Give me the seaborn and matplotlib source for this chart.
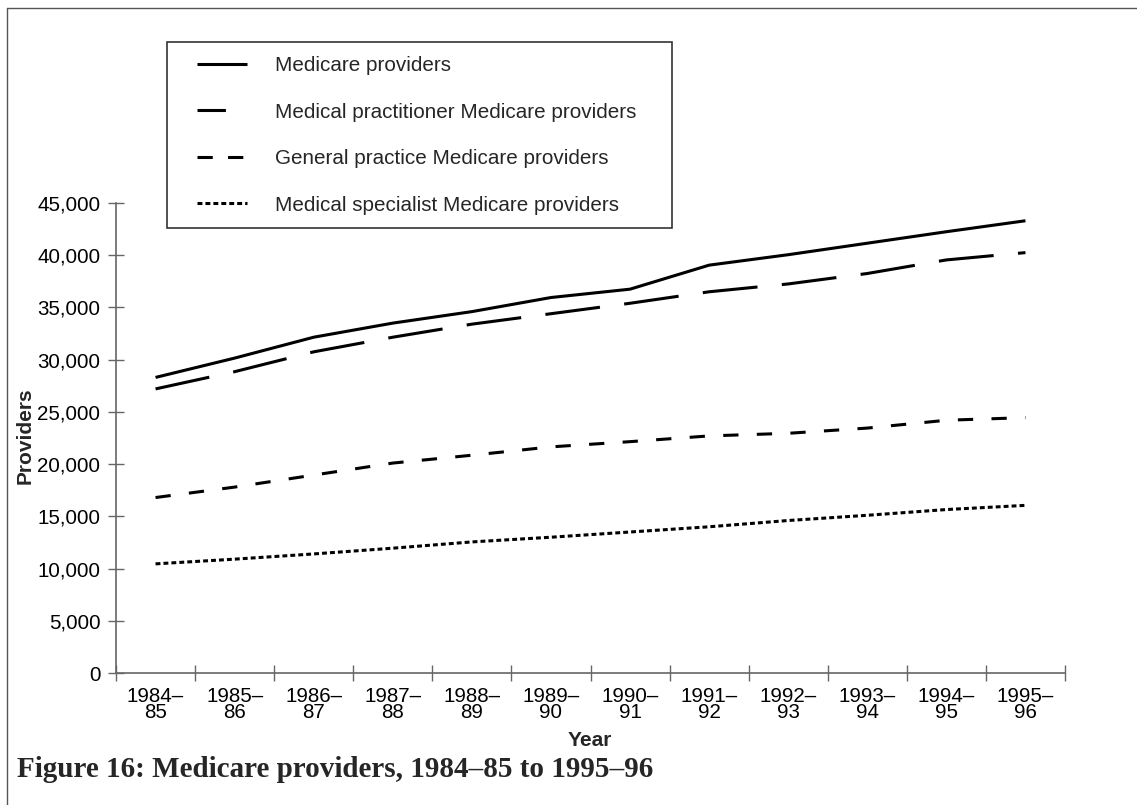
import matplotlib
matplotlib.use("Agg")
import matplotlib.pyplot as plt
import seaborn as sns
import pandas as pd
from matplotlib.lines import Line2D
from matplotlib.patches import Rectangle
from matplotlib.ticker import FuncFormatter

years = ["1984–\n85", "1985–\n86", "1986–\n87", "1987–\n88", "1988–\n89", "1989–\n90",
         "1990–\n91", "1991–\n92", "1992–\n93", "1993–\n94", "1994–\n95", "1995–\n96"]

medicare = [28300, 30150, 32150, 33500, 34600, 35950, 36750, 39050, 40050, 41150, 42250, 43300]
practitioner = [27200, 28850, 30750, 32150, 33400, 34400, 35400, 36500, 37250, 38250, 39550, 40250]
general = [16800, 17800, 18950, 20100, 20850, 21650, 22150, 22700, 22950, 23450, 24200, 24450]
specialist = [10450, 10900, 11400, 11950, 12550, 13000, 13500, 14000, 14600, 15100, 15650, 16050]

labels = ["Medicare providers",
          "Medical practitioner Medicare providers",
          "General practice Medicare providers",
          "Medical specialist Medicare providers"]
series = [medicare, practitioner, general, specialist]

# line styles in units of linewidth
styles = [(0, ()), (0, (18, 8)), (0, (5, 6)), (0, (1.6, 1.0))]
legend_styles = [(0, ()), (0, (9.3, 30)), (0, (5, 5)), (0, (1.6, 1.0))]

sns.set_theme(style="white")
plt.rcParams['font.family'] = ['Liberation Sans', 'DejaVu Sans']

W, H = 1137, 805
fig = plt.figure(figsize=(W / 100, H / 100), dpi=100)
ax = fig.add_axes([116 / W, 1 - 673 / H, (1065 - 116) / W, (673 - 203) / H])

lw = 2.2
for vals, lab, ls in zip(series, labels, styles):
    df = pd.DataFrame({"Year": years, "Providers": vals})
    sns.lineplot(data=df, x="Year", y="Providers", ax=ax, color="black",
                 linewidth=lw, linestyle=ls, sort=False, legend=False)

ax.set_xlim(-0.5, len(years) - 0.5)
ax.set_ylim(0, 45000)
ax.set_yticks(range(0, 45001, 5000))
ax.yaxis.set_major_formatter(FuncFormatter(lambda v, p: f"{int(v):,}"))
ax.set_xticks(range(len(years)))
ax.set_xticklabels(years, linespacing=0.78)
ax.set_xticks([i - 0.5 for i in range(len(years) + 1)], minor=True)

for s in ["top", "right"]:
    ax.spines[s].set_visible(False)
for s in ["left", "bottom"]:
    ax.spines[s].set_color("#666666")
    ax.spines[s].set_linewidth(1.2)

ax.tick_params(axis="y", which="major", direction="inout", length=11.5, width=1,
               color="#666666", pad=5.5, labelsize=14.8, labelcolor="black", left=True)
ax.tick_params(axis="x", which="major", length=0, pad=10, labelsize=14.8, labelcolor="black")
ax.tick_params(axis="x", which="minor", direction="inout", length=12, width=1,
               color="#666666", bottom=True)

ax.set_xlabel("")
ax.set_ylabel("")
fig.text(590 / W, 1 - 740 / H, "Year", ha="center", va="center",
         fontsize=15, fontweight="bold")
fig.text(25 / W, 1 - 436 / H, "Providers", ha="center", va="center",
         rotation=90, fontsize=15, fontweight="bold")

# legend box and entries
fig.patches.append(Rectangle((167 / W, 1 - 228 / H), (672 - 167) / W, (228 - 42) / H,
                             transform=fig.transFigure, fill=False,
                             edgecolor="#333333", linewidth=1.2))
handles = [Line2D([], [], color="black", linewidth=lw, linestyle=ls) for ls in legend_styles]
leg = fig.legend(handles, labels, loc="upper left",
                 bbox_to_anchor=(197 / W, 1 - 56 / H), frameon=False,
                 fontsize=14.9, handlelength=2.4, handletextpad=1.35,
                 labelspacing=1.33, borderpad=0, borderaxespad=0)

# outer frame
fig.add_artist(Line2D([7 / W, 1], [1 - 8 / H, 1 - 8 / H], transform=fig.transFigure,
                      color="#555555", linewidth=1))
fig.add_artist(Line2D([7 / W, 7 / W], [0, 1 - 8 / H], transform=fig.transFigure,
                      color="#555555", linewidth=1))

fig.text(17 / W, 1 - 777 / H, "Figure 16: Medicare providers, 1984–85 to 1995–96",
         ha="left", va="baseline", fontsize=21, fontweight="bold",
         family=["Liberation Serif", "DejaVu Serif"])

fig.savefig("out.png", dpi=100)
